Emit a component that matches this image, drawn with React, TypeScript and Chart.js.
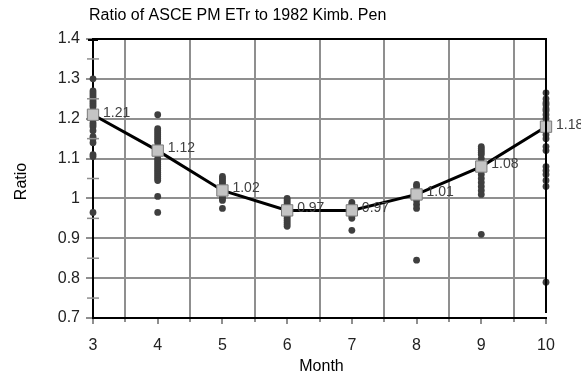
import React, { useEffect, useRef } from "react";
import { Chart, registerables } from "chart.js";

Chart.register(...registerables);

const months = [3, 4, 5, 6, 7, 8, 9, 10];
const meanRatios = [1.21, 1.12, 1.02, 0.97, 0.97, 1.01, 1.08, 1.18];
const meanLabels = ["1.21", "1.12", "1.02", "0.97", "0.97", "1.01", "1.08", "1.18"];

const ratiosMarch = [1.3, 1.27, 1.265, 1.26, 1.255, 1.25, 1.245, 1.24, 1.235, 1.23, 1.22, 1.19, 1.185, 1.18, 1.17, 1.155, 1.15, 1.14, 1.11, 1.105, 0.965];
const ratiosApril = [1.21, 1.175, 1.17, 1.165, 1.16, 1.155, 1.15, 1.145, 1.14, 1.13, 1.12, 1.11, 1.1, 1.095, 1.09, 1.085, 1.08, 1.075, 1.07, 1.065, 1.06, 1.055, 1.05, 1.045, 1.005, 0.965];
const ratiosMay = [1.055, 1.05, 1.045, 1.04, 1.035, 1.03, 1.025, 1.015, 1.01, 1.005, 1.0, 0.995, 0.975];
const ratiosJune = [1.0, 0.995, 0.99, 0.985, 0.98, 0.975, 0.97, 0.96, 0.955, 0.95, 0.945, 0.94, 0.935, 0.93];
const ratiosJuly = [0.99, 0.985, 0.98, 0.975, 0.97, 0.965, 0.96, 0.955, 0.95, 0.92];
const ratiosAugust = [1.035, 1.03, 1.02, 1.015, 1.005, 0.995, 0.985, 0.975, 0.845];
const ratiosSeptember = [1.13, 1.125, 1.12, 1.115, 1.11, 1.1, 1.09, 1.085, 1.08, 1.07, 1.06, 1.05, 1.04, 1.03, 1.02, 1.01, 0.91];
const ratiosOctober = [1.265, 1.25, 1.24, 1.235, 1.225, 1.22, 1.21, 1.2, 1.19, 1.17, 1.16, 1.15, 1.13, 1.12, 1.08, 1.07, 1.06, 1.045, 1.03, 0.79];

const samplesByMonth = [ratiosMarch, ratiosApril, ratiosMay, ratiosJune, ratiosJuly, ratiosAugust, ratiosSeptember, ratiosOctober];

const halfMonthTicks = [3.5, 4.5, 5.5, 6.5, 7.5, 8.5, 9.5];
const minorYTicks = [0.75, 0.85, 0.95, 1.05, 1.15, 1.25, 1.35];

const chartTitle = "Ratio of ASCE PM ETr to 1982 Kimb. Pen";
const xTitle = "Month";
const yTitle = "Ratio";

const FONT = "Arial, 'Liberation Sans', sans-serif";

const decorPlugin = {
  id: "decor",
  afterDraw(chart: any) {
    const ctx = chart.ctx;
    const { left, right, top, bottom } = chart.chartArea;
    const ys = chart.scales.y;
    ctx.save();
    ctx.strokeStyle = "#000";
    ctx.lineWidth = 2;
    ctx.beginPath();
    ctx.moveTo(left, top);
    ctx.lineTo(right, top);
    ctx.lineTo(right, bottom - 5);
    ctx.stroke();
    ctx.strokeStyle = "#909090";
    ctx.lineWidth = 1.5;
    minorYTicks.forEach((v) => {
      const py = ys.getPixelForValue(v);
      ctx.beginPath();
      ctx.moveTo(left - 6, py);
      ctx.lineTo(left + 6, py);
      ctx.stroke();
    });
    ctx.strokeStyle = "#000";
    ctx.lineWidth = 2;
    ctx.beginPath();
    ctx.moveTo(left - 5, top + 1);
    ctx.lineTo(left + 5, top + 1);
    ctx.stroke();

    const meta = chart.getDatasetMeta(0);
    ctx.fillStyle = "#404040";
    ctx.font = "14px " + FONT;
    ctx.textAlign = "left";
    ctx.textBaseline = "middle";
    meta.data.forEach((pt: any, i: number) => {
      ctx.fillText(meanLabels[i], pt.x + 10, pt.y - 2);
    });

    ctx.fillStyle = "#000";
    ctx.font = "16px " + FONT;
    ctx.textAlign = "left";
    ctx.fillText(chartTitle, 89, 16);
    ctx.textAlign = "center";
    ctx.fillText(xTitle, (left + right) / 2 + 2, 367);
    ctx.translate(22, (top + bottom) / 2 + 3);
    ctx.rotate(-Math.PI / 2);
    ctx.fillText(yTitle, 0, 0);
    ctx.restore();
  },
};

export default function App() {
  const ref = useRef<HTMLCanvasElement>(null);
  useEffect(() => {
    if (!ref.current) return;
    const scatterPoints: { x: number; y: number }[] = [];
    samplesByMonth.forEach((arr, i) => arr.forEach((v) => scatterPoints.push({ x: months[i], y: v })));
    const chart = new Chart(ref.current, {
      type: "scatter",
      data: {
        datasets: [
          {
            type: "line",
            data: months.map((m, i) => ({ x: m, y: meanRatios[i] })),
            borderColor: "#000",
            borderWidth: 3,
            pointStyle: "rect",
            pointRadius: 8,
            pointBackgroundColor: "#c4c4c4",
            pointBorderColor: "#7a7a7a",
            pointBorderWidth: 1,
            order: 0,
            clip: false,
          } as any,
          {
            data: scatterPoints,
            pointStyle: "circle",
            pointRadius: 3.4,
            backgroundColor: "#3f3f3f",
            borderColor: "#3f3f3f",
            borderWidth: 0,
            order: 1,
            clip: false,
          } as any,
        ],
      },
      options: {
        animation: false,
        responsive: true,
        maintainAspectRatio: false,
        layout: { padding: { top: 39, right: 35, left: 0, bottom: 0 } },
        plugins: { legend: { display: false }, tooltip: { enabled: false }, title: { display: false } },
        scales: {
          x2: {
            type: "linear",
            position: "bottom",
            min: 3,
            max: 10,
            weight: 0,
            afterBuildTicks: (s: any) => {
              s.ticks = halfMonthTicks.map((v) => ({ value: v }));
            },
            afterFit: (s: any) => {
              s.height = 0;
            },
            ticks: { display: false },
            grid: { color: "#8f8f8f", lineWidth: 2, tickLength: 4, drawTicks: true },
            border: { display: false },
          },
          x: {
            type: "linear",
            position: "bottom",
            min: 3,
            max: 10,
            weight: 1,
            afterFit: (s: any) => {
              s.height = 59;
            },
            ticks: { stepSize: 1, padding: 12, color: "#222", font: { size: 16, family: FONT } },
            grid: { drawOnChartArea: false, color: "#8f8f8f", lineWidth: 2, tickLength: 6 },
            border: { color: "#000", width: 2 },
          },
          y: {
            min: 0.7,
            max: 1.4,
            afterFit: (s: any) => {
              s.width = 93;
            },
            ticks: {
              stepSize: 0.1,
              padding: 6,
              color: "#222",
              font: { size: 16, family: FONT },
              callback: (v: any) => String(Math.round(Number(v) * 10) / 10),
            },
            grid: { color: "#8f8f8f", lineWidth: 2, tickLength: 7 },
            border: { color: "#000", width: 2 },
          },
        },
      },
      plugins: [decorPlugin],
    });
    return () => chart.destroy();
  }, []);
  return (
    <div style={{ position: "absolute", left: 0, top: 0, width: 581, height: 377, background: "#fff" }}>
      <canvas ref={ref} />
    </div>
  );
}
